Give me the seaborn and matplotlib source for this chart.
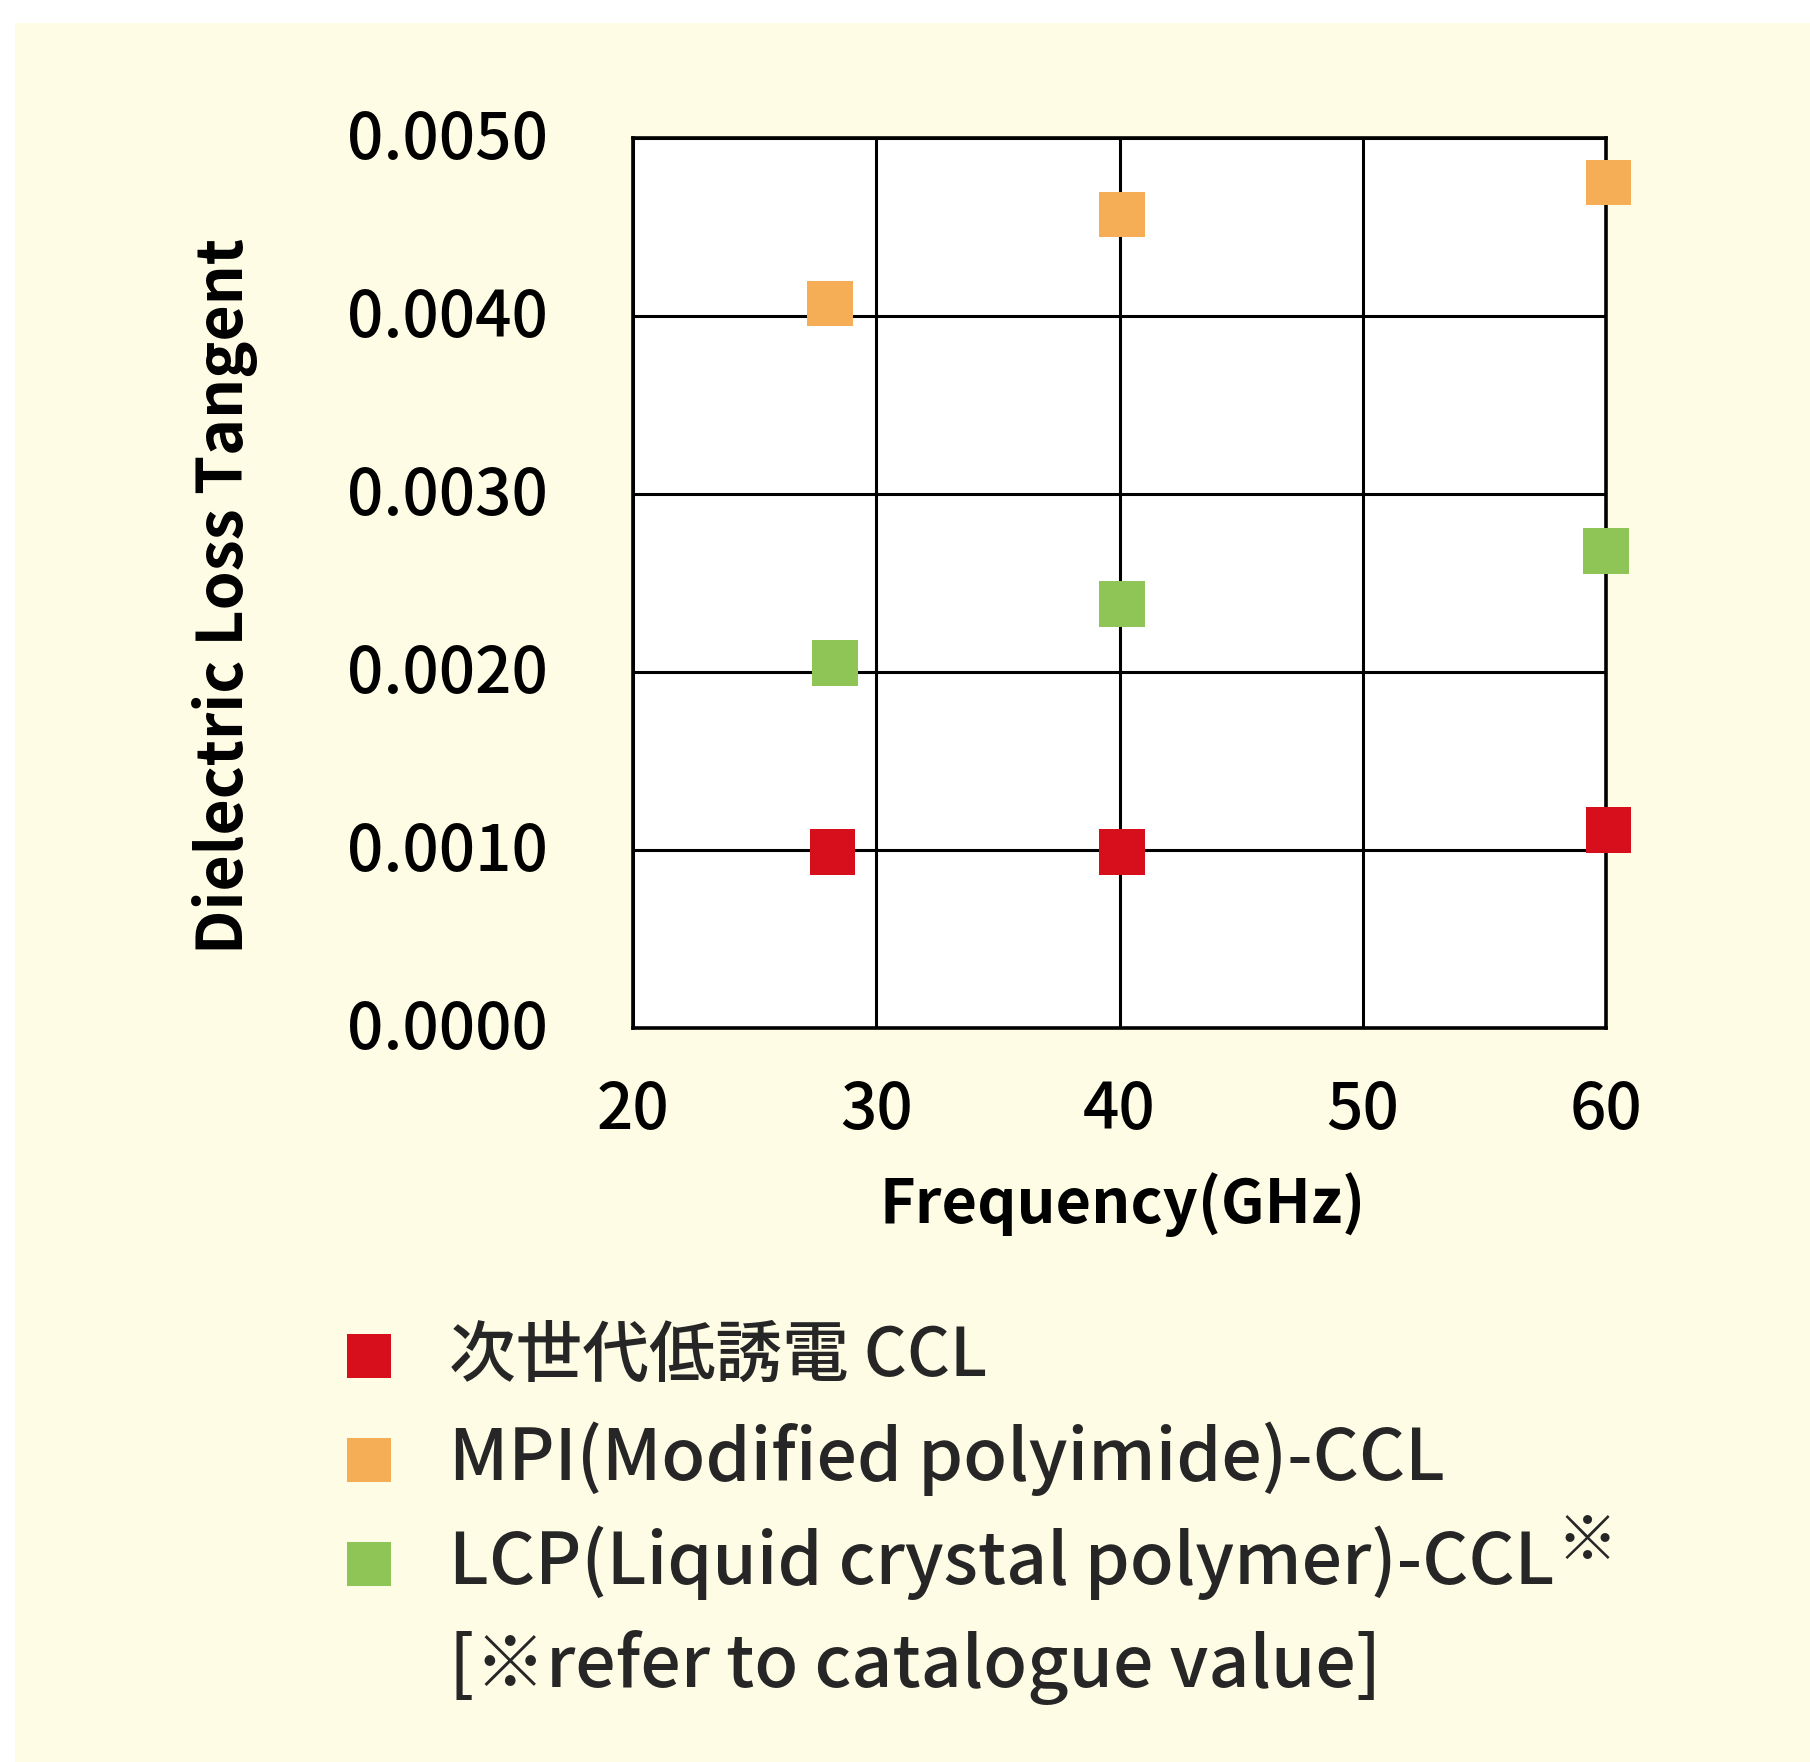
import numpy as np
import pandas as pd
import seaborn as sns
import matplotlib.pyplot as plt
from matplotlib.lines import Line2D
from matplotlib.patches import Rectangle
from matplotlib.transforms import ScaledTranslation

# data
materials = ["次世代低誘電 CCL", "MPI(Modified polyimide)-CCL", "LCP(Liquid crystal polymer)-CCL"]
colors = ["#D70E1B", "#F5AE55", "#8FC557"]

freq_ccl = [28.2, 40.1, 60.1]
tan_ccl = [0.00099, 0.00099, 0.00111]

freq_mpi = [28.1, 40.1, 60.1]
tan_mpi = [0.00407, 0.00457, 0.00475]

freq_lcp = [28.3, 40.1, 60.0]
tan_lcp = [0.00205, 0.00238, 0.00268]

xticks = [20, 30, 40, 50, 60]
yticks = [0.0, 0.001, 0.002, 0.003, 0.004, 0.005]
ytick_labels = ["0.0000", "0.0010", "0.0020", "0.0030", "0.0040", "0.0050"]
note = "[※refer to catalogue value]"

df = pd.DataFrame({
    "freq": freq_ccl + freq_mpi + freq_lcp,
    "tan": tan_ccl + tan_mpi + tan_lcp,
    "material": np.repeat(materials, 3),
})

sns.set_theme(style="white")
plt.rcParams['font.family'] = ['Noto Sans CJK JP', 'DejaVu Sans']

W, H = 1810, 1762
fig = plt.figure(figsize=(W / 100, H / 100), dpi=100)
fig.patch.set_facecolor("white")
fig.patches.append(Rectangle((15 / W, 0), 1, (H - 23) / H, transform=fig.transFigure,
                             facecolor="#FEFCE5", edgecolor="none", zorder=-10))

ax = fig.add_axes([633 / W, (H - 1028) / H, 973 / W, 890 / H])
ax.set_facecolor("white")

sns.scatterplot(data=df, x="freq", y="tan", hue="material", hue_order=materials,
                palette=colors, marker="s", s=1090, linewidth=0, legend=False,
                ax=ax, zorder=5, clip_on=False)

ax.set_xlim(20, 60)
ax.set_ylim(0, 0.005)
ax.set_xticks(xticks)
ax.set_yticks(yticks)
ax.set_yticklabels(ytick_labels)
ax.grid(True, color="black", linewidth=2.2)
ax.set_axisbelow(True)
for sp in ax.spines.values():
    sp.set_visible(True)
    sp.set_color("black")
    sp.set_linewidth(2.6)
ax.tick_params(length=0, labelsize=46, colors="black")
ax.tick_params(axis="y", pad=61)
ax.tick_params(axis="x", pad=36)
for lab in ax.get_xticklabels() + ax.get_yticklabels():
    lab.set_fontweight("medium")
# nudge y tick labels up a little
up = ScaledTranslation(0, 0.04, fig.dpi_scale_trans)
for lab in ax.get_yticklabels():
    lab.set_transform(lab.get_transform() + up)

ax.set_xlabel("Frequency(GHz)", fontsize=44, fontweight="bold", color="black")
ax.set_ylabel("Dielectric Loss Tangent", fontsize=45, fontweight="bold", color="black")
ax.xaxis.set_label_coords(0.5036, -0.162)
ax.yaxis.set_label_coords(-0.385, 0.485)

# legend
handles = [Line2D([], [], marker="s", linestyle="none", markersize=31.7,
                  markerfacecolor=c, markeredgewidth=0) for c in colors]
handles.append(Line2D([], [], linestyle="none"))
leg = fig.legend(handles, materials + [note], loc="upper left",
                 bbox_to_anchor=(338 / W, (H - 1323) / H), frameon=False,
                 prop={"size": 51.5, "weight": "medium"},
                 handlelength=0.87, handleheight=0.2,
                 handletextpad=0.68, labelspacing=0.42, borderpad=0, borderaxespad=0)
leg.get_texts()[0].set_fontsize(48)

fig.canvas.draw()
bb = leg.get_texts()[2].get_window_extent()
fig.text((bb.x1 + 2) / W, (bb.y1 + 14) / H, "※", fontsize=44, ha="left", va="top")

fig.savefig("out.png", dpi=100, facecolor=fig.get_facecolor())
